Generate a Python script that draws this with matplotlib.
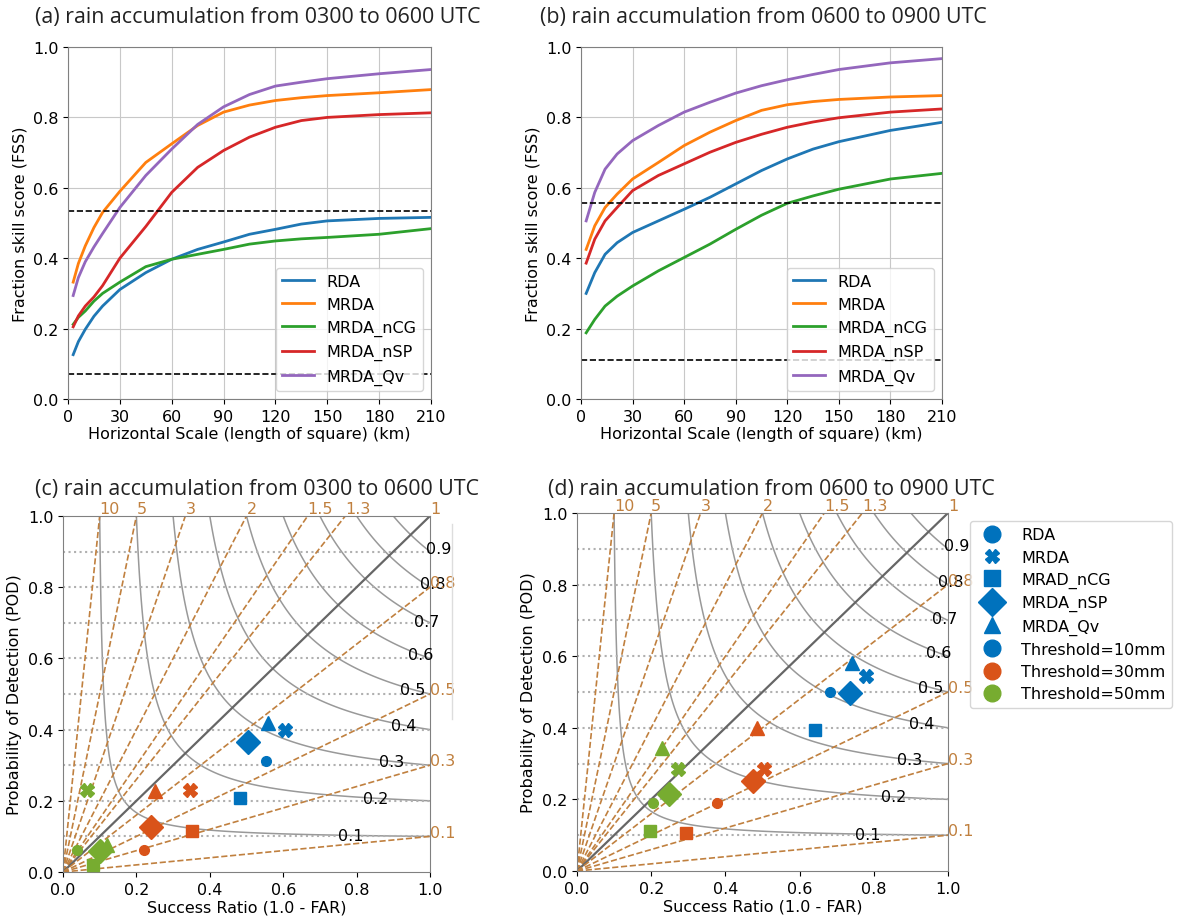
import numpy as np
import matplotlib.pyplot as plt
from matplotlib.lines import Line2D

W, H = 1177, 920

## FSS curves, panel (a) 0300-0600 UTC
scale_a = [3, 6, 10, 15, 20, 30, 45, 60, 75, 90, 105, 120, 135, 150, 180, 210]
fss_a = {
    'RDA':       [0.126, 0.163, 0.198, 0.235, 0.264, 0.311, 0.359, 0.397, 0.425, 0.446, 0.468, 0.482, 0.497, 0.506, 0.513, 0.516],
    'MRDA':      [0.332, 0.385, 0.435, 0.487, 0.530, 0.590, 0.672, 0.725, 0.777, 0.815, 0.835, 0.848, 0.856, 0.862, 0.870, 0.879],
    'MRDA_nCG':  [0.212, 0.232, 0.250, 0.278, 0.300, 0.332, 0.376, 0.397, 0.411, 0.425, 0.440, 0.449, 0.455, 0.459, 0.468, 0.484],
    'MRDA_nSP':  [0.205, 0.236, 0.264, 0.290, 0.322, 0.400, 0.490, 0.587, 0.658, 0.706, 0.744, 0.772, 0.791, 0.800, 0.808, 0.813],
    'MRDA_Qv':   [0.294, 0.345, 0.390, 0.432, 0.470, 0.544, 0.635, 0.710, 0.780, 0.830, 0.865, 0.889, 0.900, 0.910, 0.924, 0.936],
}
ref_a = [0.535, 0.070]

## FSS curves, panel (b) 0600-0900 UTC
scale_b = [3, 8, 14, 21, 30, 45, 60, 75, 90, 105, 120, 135, 150, 180, 210]
fss_b = {
    'RDA':       [0.300, 0.359, 0.411, 0.444, 0.473, 0.506, 0.539, 0.573, 0.611, 0.649, 0.682, 0.710, 0.731, 0.763, 0.786],
    'MRDA':      [0.425, 0.492, 0.544, 0.582, 0.625, 0.672, 0.720, 0.758, 0.791, 0.820, 0.836, 0.845, 0.851, 0.858, 0.862],
    'MRDA_nCG':  [0.188, 0.226, 0.264, 0.292, 0.321, 0.364, 0.402, 0.440, 0.482, 0.522, 0.556, 0.577, 0.596, 0.625, 0.641],
    'MRDA_nSP':  [0.386, 0.454, 0.506, 0.544, 0.592, 0.635, 0.668, 0.701, 0.729, 0.752, 0.772, 0.787, 0.799, 0.815, 0.824],
    'MRDA_Qv':   [0.506, 0.587, 0.653, 0.696, 0.734, 0.777, 0.815, 0.843, 0.869, 0.890, 0.907, 0.922, 0.936, 0.955, 0.967],
}
ref_b = [0.556, 0.110]

## performance diagram points: rows = threshold (10, 30, 50 mm), cols = experiments
exps = ['RDA', 'MRDA', 'MRAD_nCG', 'MRDA_nSP', 'MRDA_Qv']
thresholds = ['Threshold=10mm', 'Threshold=30mm', 'Threshold=50mm']
sr_c = [[0.554, 0.605, 0.481, 0.504, 0.559],
        [0.220, 0.347, 0.351, 0.240, 0.252],
        [0.039, 0.066, 0.082, 0.102, 0.120]]
pod_c = [[0.311, 0.398, 0.208, 0.364, 0.418],
         [0.063, 0.229, 0.114, 0.126, 0.227],
         [0.062, 0.230, 0.020, 0.059, 0.075]]
sr_d = [[0.682, 0.780, 0.641, 0.735, 0.740],
        [0.378, 0.504, 0.293, 0.474, 0.486],
        [0.206, 0.272, 0.197, 0.247, 0.229]]
pod_d = [[0.499, 0.545, 0.393, 0.497, 0.582],
         [0.190, 0.286, 0.107, 0.251, 0.399],
         [0.190, 0.286, 0.111, 0.215, 0.344]]

bias_levels = [10, 5, 3, 2, 1.5, 1.3, 1, 0.8, 0.5, 0.3, 0.1]
csi_levels = [0.1, 0.2, 0.3, 0.4, 0.5, 0.6, 0.7, 0.8, 0.9]
csi_label_x = [0.785, 0.853, 0.896, 0.928, 0.952, 0.974, 0.992, 1.007, 1.023]

thr_colors = ['#0072BD', '#D95319', '#77AC30']
markers = ['o', 'X', 's', 'D', '^']
msizes = [7, 10, 8, 12, 10]
brown = '#c0803f'
spine_col = '#808080'

plt.rcParams['font.size'] = 11.5


def px_axes(fig, x0, x1, y0, y1):
    return fig.add_axes([x0 / W, 1 - y1 / H, (x1 - x0) / W, (y1 - y0) / H])


def fss_panel(ax, scale, fss, ref):
    for name, vals in fss.items():
        ax.plot(scale, vals, lw=2, label=name)
    for r in ref:
        ax.axhline(r, color='k', linestyle='--', lw=1.2)
    ax.set_xlim(0, 210)
    ax.set_ylim(0, 1)
    ax.set_xticks(np.arange(0, 211, 30))
    ax.set_yticks(np.arange(0, 1.01, 0.2))
    ax.grid(True, color='#c8c8c8')
    ax.set_xlabel('Horizontal Scale (length of square) (km)', labelpad=2)
    ax.set_ylabel('Fraction skill score (FSS)')
    ax.legend(loc='lower right')
    for s in ax.spines.values():
        s.set_color(spine_col)


def perf_panel(ax, sr, pod):
    g = np.linspace(0.001, 1, 400)
    sg, pg = np.meshgrid(g, g)
    csi = 1.0 / (1.0 / sg + 1.0 / pg - 1.0)
    ax.contour(sg, pg, csi, levels=csi_levels, colors='#999999', linewidths=1.1)
    for lev, lx in zip(csi_levels, csi_label_x):
        ly = 1.0 / (1.0 / lev + 1.0 - 1.0 / lx) if lx <= 1 else lev + 0.01
        ax.text(lx, ly, f'{lev:.1f}', ha='center', va='center', clip_on=False)
    for y in csi_levels:
        ax.axhline(y, color='#b0b0b0', linestyle=':', lw=1.5)
    for b in bias_levels:
        if b == 1:
            ax.plot([0, 1], [0, 1], color='#666666', lw=1.6)
            ax.text(1.0, 1.0, '1', color=brown, ha='left', va='bottom')
        elif b > 1:
            ax.plot([0, 1 / b], [0, 1], color=brown, linestyle='--', lw=1.2)
            ax.text(1 / b, 1.0, f'{b:g}', color=brown, ha='left', va='bottom')
        else:
            ax.plot([0, 1], [0, b], color=brown, linestyle='--', lw=1.2)
            ax.text(1.0, b + 0.012, f'{b:g}', color=brown, ha='left', va='center')
    for i in range(3):
        for j in range(5):
            ax.plot(sr[i][j], pod[i][j], marker=markers[j], ms=msizes[j],
                    color=thr_colors[i], mec=thr_colors[i], ls='none', zorder=5)
    ax.set_xlim(0, 1)
    ax.set_ylim(0, 1)
    ax.set_xticks(np.arange(0, 1.01, 0.2))
    ax.set_yticks(np.arange(0, 1.01, 0.2))
    ax.set_xlabel('Success Ratio (1.0 - FAR)', labelpad=2)
    ax.set_ylabel('Probability of Detection (POD)')
    for s in ax.spines.values():
        s.set_color(spine_col)


fig = plt.figure(figsize=(W / 100, H / 100), dpi=100)

ax_a = px_axes(fig, 68, 431, 48, 400)
fss_panel(ax_a, scale_a, fss_a, ref_a)
ax_b = px_axes(fig, 581, 942, 48, 400)
fss_panel(ax_b, scale_b, fss_b, ref_b)
ax_c = px_axes(fig, 63, 430, 517, 873)
perf_panel(ax_c, sr_c, pod_c)
ax_d = px_axes(fig, 577, 948, 514, 872)
perf_panel(ax_d, sr_d, pod_d)

title_kw = dict(fontsize=15.4, family='Open Sans', va='center', ha='left', color='#222222')
fig.text(35 / W, 1 - 17 / H, '(a) rain accumulation from 0300 to 0600 UTC', **title_kw)
fig.text(540 / W, 1 - 17 / H, '(b) rain accumulation from 0600 to 0900 UTC', **title_kw)
fig.text(35 / W, 1 - 490 / H, '(c) rain accumulation from 0300 to 0600 UTC', **title_kw)
fig.text(548 / W, 1 - 490 / H, '(d) rain accumulation from 0600 to 0900 UTC', **title_kw)

# marker legend to the right of (d)
handles = [Line2D([], [], marker=m, color=thr_colors[0], ls='none', ms=s)
           for m, s in zip(markers, [12, 10, 12, 14, 11])]
handles += [Line2D([], [], marker='o', color=c, ls='none', ms=12) for c in thr_colors]
fig.legend(handles, exps + thresholds, loc='upper left', labelspacing=0.45,
           bbox_to_anchor=(970 / W, 1 - 522 / H), borderaxespad=0)

# clipped legend edge next to (c)
fig.add_artist(Line2D([452 / W, 452 / W], [1 - 525 / H, 1 - 720 / H], color='#dddddd', lw=1))

fig.savefig('out.png', dpi=100)
